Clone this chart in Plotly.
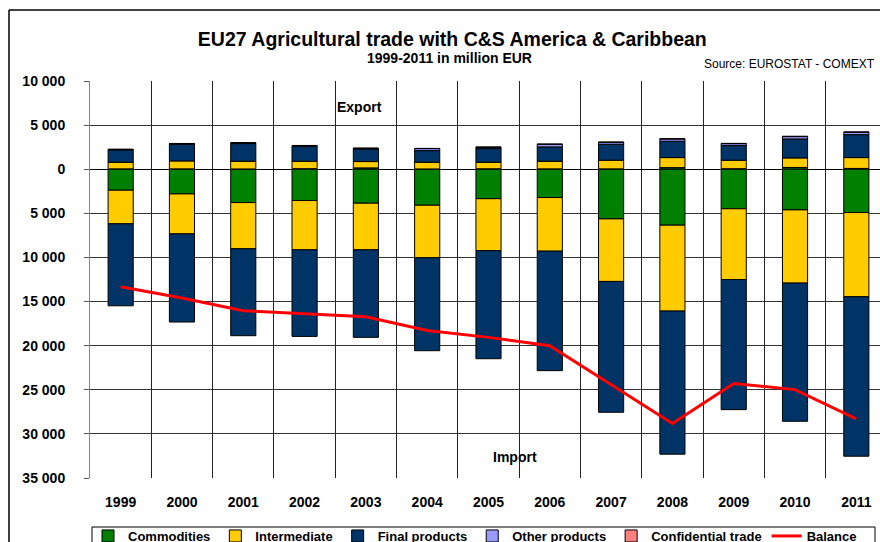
import plotly.graph_objects as go

years = ["1999", "2000", "2001", "2002", "2003", "2004", "2005", "2006", "2007", "2008", "2009", "2010", "2011"]

# Export segments (million EUR)
exp_commodities = [40, 40, 30, 60, 150, 30, 50, 40, 40, 180, 60, 200, 90]
exp_intermediate = [750, 900, 875, 845, 720, 760, 740, 865, 980, 1140, 960, 1080, 1230]
exp_final = [1400, 1890, 2000, 1700, 1430, 1320, 1550, 1625, 1810, 1850, 1660, 2150, 2600]
exp_other = [50, 60, 70, 60, 60, 230, 150, 300, 220, 260, 220, 270, 270]
exp_confidential = [30, 30, 40, 30, 40, 20, 30, 20, 30, 30, 30, 40, 40]

# Import segments (million EUR, shown below zero)
imp_commodities = [2380, 2800, 3780, 3550, 3850, 4080, 3340, 3210, 5630, 6340, 4480, 4610, 4910]
imp_intermediate = [3810, 4530, 5240, 5590, 5290, 5960, 5890, 6080, 7090, 9740, 8020, 8300, 9550]
imp_final = [9290, 9990, 9850, 9810, 9920, 10530, 12250, 13540, 14830, 16220, 14750, 15660, 18070]

balance = [-13320, -14600, -16040, -16420, -16720, -18270, -19060, -20000, -24420, -28830, -24300, -24980, -28300]

y_ticks = [10000, 5000, 0, -5000, -10000, -15000, -20000, -25000, -30000, -35000]
y_ticktext = ["10 000", "5 000", "0", "5 000", "10 000", "15 000", "20 000", "25 000", "30 000", "35 000"]

colors = {
    "Commodities": "#008000",
    "Intermediate": "#FFCC00",
    "Final products": "#003366",
    "Other products": "#9999FF",
    "Confidential trade": "#FF8080",
}

xpos = list(range(len(years)))
W = 0.41
line = dict(color="black", width=1)

fig = go.Figure()

def add_bar(name, vals, show):
    fig.add_trace(go.Bar(
        x=xpos, y=vals, name=name, width=W,
        marker=dict(color=colors[name], line=line),
        legendgroup=name, showlegend=show,
    ))

add_bar("Commodities", exp_commodities, True)
add_bar("Commodities", [-v for v in imp_commodities], False)
add_bar("Intermediate", exp_intermediate, True)
add_bar("Intermediate", [-v for v in imp_intermediate], False)
add_bar("Final products", exp_final, True)
add_bar("Final products", [-v for v in imp_final], False)
add_bar("Other products", exp_other, True)
add_bar("Confidential trade", exp_confidential, True)

fig.add_trace(go.Scatter(
    x=xpos, y=balance, name="Balance", mode="lines",
    line=dict(color="#FF0000", width=3),
))

font_family = "Liberation Sans, Arial, sans-serif"
PLOT_T, PLOT_B, PLOT_L, PLOT_W = 81, 478, 90, 790
PH = PLOT_B - PLOT_T

def py(pix):
    return (PLOT_B - pix) / PH

def px(pix):
    return (pix - PLOT_L) / PLOT_W

fig.update_layout(
    width=880, height=542,
    barmode="relative",
    paper_bgcolor="white", plot_bgcolor="white",
    margin=dict(l=90, r=0, t=81, b=64, autoexpand=False),
    font=dict(family=font_family, size=12, color="black"),
    showlegend=True,
    legend=dict(
        orientation="h", x=px(88), xanchor="left", y=py(521), yanchor="top",
        bgcolor="rgba(0,0,0,0)", borderwidth=0,
        font=dict(size=13, family=font_family, weight="bold"),
        itemwidth=30, tracegroupgap=0,
        traceorder="normal",
    ),
    xaxis=dict(
        range=[-0.5, 12.386],
        tickmode="array", tickvals=xpos, ticktext=years,
        showgrid=False, zeroline=False, ticks="",
        ticklabelstandoff=14,
        tickfont=dict(size=14, family=font_family, weight="bold"),
        minor=dict(tickmode="linear", tick0=0.5, dtick=1, showgrid=True,
                   gridcolor="#222", gridwidth=1),
        showline=False,
    ),
    yaxis=dict(
        range=[-35000, 10000],
        tickmode="array", tickvals=y_ticks, ticktext=y_ticktext,
        showgrid=True, gridcolor="#333", gridwidth=1,
        zeroline=True, zerolinecolor="black", zerolinewidth=1,
        ticks="outside", ticklen=5, tickcolor="#555",
        ticklabelstandoff=16,
        showline=True, linecolor="#888", linewidth=1,
        tickfont=dict(size=14, family=font_family, weight="bold"),
    ),
    title=dict(
        text="<b>EU27 Agricultural trade with C&S America & Caribbean</b>",
        x=0.514, xanchor="center", y=1 - 39 / 542, yanchor="middle",
        font=dict(size=19.5, family=font_family),
    ),
    annotations=[
        dict(text="<b>1999-2011 in million EUR</b>", xref="paper", yref="paper",
             x=px(449), y=py(58.5), xanchor="center", yanchor="middle", showarrow=False,
             font=dict(size=14, family=font_family)),
        dict(text="Source: EUROSTAT - COMEXT", xref="paper", yref="paper",
             x=px(877), y=py(64), xanchor="right", yanchor="middle", showarrow=False,
             font=dict(size=12, family=font_family)),
        dict(text="<b>Export</b>", x=3.89, y=7000, xref="x", yref="y",
             showarrow=False, font=dict(size=14, family=font_family)),
        dict(text="<b>Import</b>", x=6.44, y=-32600, xref="x", yref="y",
             showarrow=False, font=dict(size=14, family=font_family)),
    ],
    shapes=[
        dict(type="line", xref="paper", yref="paper",
             x0=px(9), x1=px(9), y0=py(10), y1=py(560),
             line=dict(color="black", width=1.5)),
        dict(type="line", xref="paper", yref="paper",
             x0=px(9), x1=px(900), y0=py(10), y1=py(10),
             line=dict(color="black", width=1.5)),
        dict(type="rect", xref="paper", yref="paper",
             x0=px(92), x1=px(875), y0=py(527), y1=py(560),
             line=dict(color="black", width=1), fillcolor="rgba(0,0,0,0)"),
    ],
)

fig.write_html(
    "out.html",
    config={"displayModeBar": False},
    post_script="document.body.style.margin='0';document.body.style.overflow='hidden';",
)
